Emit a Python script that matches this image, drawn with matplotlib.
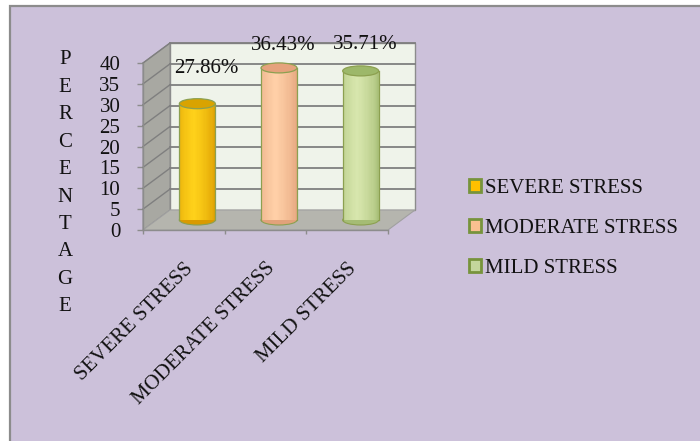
import matplotlib
matplotlib.use("Agg")
import matplotlib.pyplot as plt
from matplotlib.patches import Rectangle, Polygon, Ellipse, Patch
import matplotlib.colors as mcolors
import numpy as np

# ---- data ----
categories = ["SEVERE STRESS", "MODERATE STRESS", "MILD STRESS"]
values = [27.86, 36.43, 35.71]
value_labels = ["27.86%", "36.43%", "35.71%"]
y_ticks = [0, 5, 10, 15, 20, 25, 30, 35, 40]
y_title = "PERCENTAGE"

# ---- styles ----
light_cols = ["#FFD21A", "#FFD0A8", "#D8E7AE"]
dark_cols = ["#D99A00", "#E2A27A", "#A5BC74"]
top_cols = ["#D9A300", "#E5A27C", "#9DB86A"]
legend_cols = ["#FFC000", "#FAC090", "#C3D69B"]
outline = "#8CA050"
bg = "#CCC1DA"
FONT = "Liberation Serif"
FS = 15
plt.rcParams["font.family"] = [FONT, "DejaVu Serif"]

W, H = 700, 441
fig = plt.figure(figsize=(W / 100, H / 100), dpi=100)
fig.patch.set_facecolor("white")
fig.add_artist(Rectangle((10 / W, -0.05), 1.1, 1.05 - 6 / H, transform=fig.transFigure,
                         facecolor=bg, edgecolor="#8C8C8C", linewidth=1.6, zorder=0))

# axes = front plane of the 3D box
x0_px, x1_px, y0_px, y1_px = 143, 388, 230, 63
ax = fig.add_axes([x0_px / W, 1 - y0_px / H, (x1_px - x0_px) / W, (y0_px - y1_px) / H])
ax.set_xlim(-0.5, 2.5)
ax.set_ylim(0, 40)
ax.patch.set_visible(False)
for s in ax.spines.values():
    s.set_visible(False)

pxu_x = (x1_px - x0_px) / 3.0
pxu_y = (y0_px - y1_px) / 40.0
DX = 27 / pxu_x
DY = 20 / pxu_y
xl, xr, ymax = -0.5, 2.5, 40

# back wall
ax.add_patch(Rectangle((xl + DX, DY), 3, ymax, facecolor="#EFF3EA", edgecolor="#8C8C8C",
                       linewidth=1.0, clip_on=False, zorder=1))
# side wall
ax.add_patch(Polygon([(xl, 0), (xl, ymax), (xl + DX, ymax + DY), (xl + DX, DY)], closed=True,
                     facecolor="#A8A8A2", edgecolor="#8C8C8C", linewidth=0.8, clip_on=False, zorder=1))
# floor
ax.add_patch(Polygon([(xl, 0), (xr, 0), (xr + DX, DY), (xl + DX, DY)], closed=True,
                     facecolor="#B5B5AE", edgecolor="#A0A0A0", linewidth=0.8, clip_on=False, zorder=1))
# gridlines
for t in y_ticks[1:]:
    ax.plot([xl + DX, xr + DX], [t + DY, t + DY], color="#7F7F7F", lw=1.3, clip_on=False, zorder=2)
    ax.plot([xl, xl + DX], [t, t + DY], color="#7F7F7F", lw=1.0, clip_on=False, zorder=2)
# front axes lines
ax.plot([xl, xl], [0, ymax], color="#8C8C8C", lw=1.0, clip_on=False, zorder=3)
ax.plot([xl, xr], [0, 0], color="#8C8C8C", lw=1.0, clip_on=False, zorder=3)

# cylinders
bw = 0.44
eh = 10 / pxu_y
nstrip = 30
x_pos = np.arange(len(categories))
for i, v in enumerate(values):
    xc = x_pos[i] + DX / 2
    base = DY / 2
    ax.add_patch(Ellipse((xc, base), bw, eh, facecolor=dark_cols[i], edgecolor=outline,
                         linewidth=0.8, clip_on=False, zorder=4))
    lc = np.array(mcolors.to_rgb(light_cols[i]))
    dc = np.array(mcolors.to_rgb(dark_cols[i]))
    edges = np.linspace(xc - bw / 2, xc + bw / 2, nstrip + 1)
    centers = (edges[:-1] + edges[1:]) / 2
    tt = (centers - (xc - bw / 2)) / bw
    f = np.clip(1 - np.abs(tt - 0.4) / 0.6, 0, 1) ** 0.6
    cols = [tuple(dc + (lc - dc) * k) for k in f]
    ax.bar(centers, [v] * nstrip, width=bw / nstrip * 1.05, bottom=base, color=cols,
           linewidth=0, clip_on=False, zorder=5)
    ax.plot([xc - bw / 2, xc - bw / 2], [base, base + v], color=outline, lw=0.9, clip_on=False, zorder=6)
    ax.plot([xc + bw / 2, xc + bw / 2], [base, base + v], color=outline, lw=0.9, clip_on=False, zorder=6)
    ax.add_patch(Ellipse((xc, base + v), bw, eh, facecolor=top_cols[i], edgecolor=outline,
                         linewidth=0.9, clip_on=False, zorder=7))

# data labels
label_offsets_px = [(9, 35), (4, 22), (5, 26)]
for i, v in enumerate(values):
    ax.annotate(value_labels[i], (x_pos[i] + DX / 2, DY / 2 + v),
                xytext=(label_offsets_px[i][0] * 0.72, label_offsets_px[i][1] * 0.72),
                textcoords="offset points", ha="center", va="center", fontsize=FS,
                color="#111111", zorder=8, annotation_clip=False)

# ticks
ax.set_yticks(y_ticks)
ax.set_yticklabels([str(t) for t in y_ticks])
ax.tick_params(axis="y", length=4.3, width=1, color="#8C8C8C", pad=12, labelsize=FS, labelcolor="#111111")
ax.set_xticks([-0.5, 0.5, 1.5, 2.5])
ax.set_xticklabels([])
ax.tick_params(axis="x", which="major", length=3, width=1, color="#8C8C8C")
ax.set_xticks(x_pos, minor=True)
ax.set_xticklabels(categories, minor=True, rotation=45, ha="right", va="top",
                   rotation_mode="anchor", fontsize=FS, color="#111111")
ax.tick_params(axis="x", which="minor", length=0, pad=21)

# vertical stacked title, one letter per line
for k, ch in enumerate(y_title):
    fig.text(65 / W, 1 - (60 + 27.4 * k) / H, ch, ha="center", va="center", fontsize=FS,
             color="#111111")

# legend
handles = [Patch(facecolor=legend_cols[i], edgecolor="#77933C", linewidth=2) for i in range(3)]
fig.legend(handles, categories, loc="upper left", bbox_to_anchor=(461 / W, 1 - 171 / H),
           frameon=False, fontsize=FS, handlelength=0.58, handleheight=0.58, handletextpad=0.15,
           labelspacing=1.0, borderaxespad=0, labelcolor="#111111")

fig.savefig("out.png", dpi=100, facecolor=fig.get_facecolor())
